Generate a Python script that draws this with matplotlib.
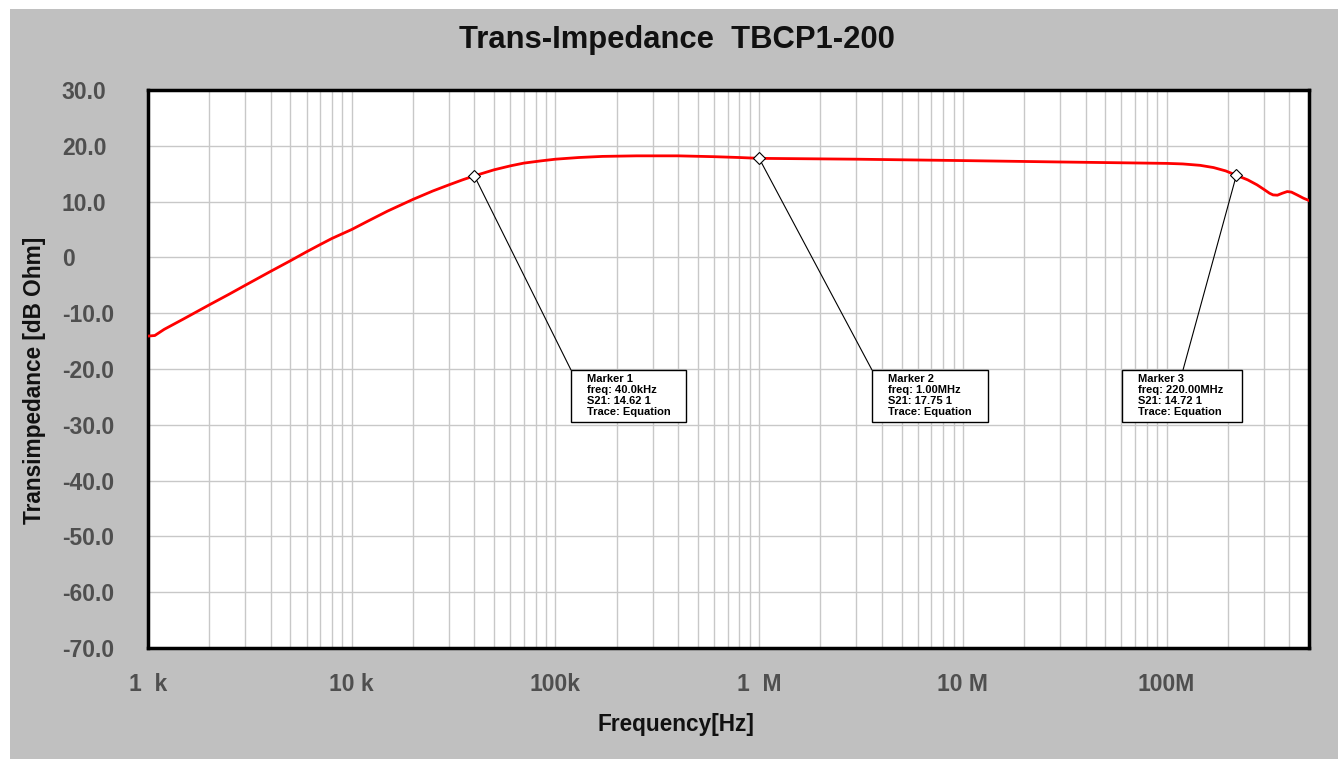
import matplotlib
matplotlib.use("Agg")
import matplotlib.pyplot as plt
from matplotlib.patches import Rectangle, ConnectionPatch
from matplotlib.ticker import FixedLocator, NullFormatter

# ---- data ----
freq_hz = [1e3, 1.08e3, 1.2e3, 1.5e3, 2e3, 2.5e3, 3e3, 4e3, 5e3, 6e3, 7e3, 8e3, 1e4, 1.2e4,
           1.5e4, 2e4, 2.5e4, 3e4, 3.5e4, 4e4, 5e4, 6e4, 7e4, 8.5e4, 1e5, 1.3e5, 1.7e5, 2.5e5,
           4e5, 6e5, 8e5, 1e6, 3e6, 1e7, 3e7, 1e8, 1.2e8, 1.46e8, 1.7e8, 1.95e8, 2.2e8, 2.5e8,
           2.78e8, 3e8, 3.2e8, 3.33e8, 3.5e8, 3.7e8, 3.91e8, 4.1e8, 4.37e8, 4.7e8, 5e8]
trans_db = [-14.1, -14.0, -12.9, -11.0, -8.5, -6.6, -5.0, -2.5, -0.6, 1.0, 2.3, 3.4, 5.0, 6.5,
            8.3, 10.4, 11.9, 13.0, 13.9, 14.62, 15.7, 16.4, 16.9, 17.3, 17.6, 17.9, 18.1, 18.2,
            18.2, 18.05, 17.9, 17.75, 17.6, 17.35, 17.1, 16.85, 16.75, 16.5, 16.1, 15.5, 14.72, 13.9,
            13.0, 12.2, 11.5, 11.2, 11.15, 11.5, 11.8, 11.7, 11.2, 10.6, 10.2]

marker_names = ["Marker 1", "Marker 2", "Marker 3"]
marker_freq = [40e3, 1e6, 220e6]
marker_freq_txt = ["40.0kHz", "1.00MHz", "220.00MHz"]
marker_val = [14.62, 17.75, 14.72]

ytick_vals = [30, 20, 10, 0, -10, -20, -30, -40, -50, -60, -70]
ytick_labels = ["30.0", "20.0", "10.0", "0", "-10.0", "-20.0", "-30.0", "-40.0", "-50.0", "-60.0", "-70.0"]
xtick_vals = [1e3, 1e4, 1e5, 1e6, 1e7, 1e8]
xtick_labels = ["1  k", "10 k", "100k", "1  M", "10 M", "100M"]

# ---- figure ----
W, H = 1338, 759
fig = plt.figure(figsize=(W / 100, H / 100), dpi=100)
fig.patch.set_facecolor("white")
fig.patches.append(Rectangle((10 / W, 0), 1 - 10 / W, 1 - 9 / H, transform=fig.transFigure,
                             facecolor="#c0c0c0", edgecolor="none", zorder=-10))

L, R, T, B = 148, 1309, 90, 648
ax = fig.add_axes([L / W, 1 - B / H, (R - L) / W, (B - T) / H])
ax.set_facecolor("white")
ax.set_xscale("log")
ax.set_xlim(1e3, 5e8)
ax.set_ylim(-70, 30)

fam = ["Liberation Sans", "DejaVu Sans"]
tick_col = "#4f4f4f"

ax.xaxis.set_major_locator(FixedLocator(xtick_vals))
ax.set_xticklabels(xtick_labels)
minors = [m * 10 ** e for e in range(3, 9) for m in range(2, 10) if m * 10 ** e <= 5e8]
ax.xaxis.set_minor_locator(FixedLocator(minors))
ax.xaxis.set_minor_formatter(NullFormatter())
ax.set_yticks(ytick_vals)
ax.set_yticklabels(ytick_labels)

ax.grid(True, which="both", axis="x", color="#c8c8c8", lw=1.0)
ax.grid(True, which="major", axis="y", color="#c8c8c8", lw=1.0)
ax.set_axisbelow(True)

ax.tick_params(axis="both", which="both", length=0)
ax.tick_params(axis="x", pad=18, labelsize=16.5, labelcolor=tick_col)
ax.tick_params(axis="y", pad=62, labelsize=16.5, labelcolor=tick_col)
for lab in ax.get_yticklabels():
    lab.set_horizontalalignment("left")
    lab.set_fontfamily(fam)
    lab.set_fontweight("bold")
for lab in ax.get_xticklabels():
    lab.set_fontfamily(fam)
    lab.set_fontweight("bold")

for sp in ax.spines.values():
    sp.set_linewidth(2.5)
    sp.set_color("black")

ax.plot(freq_hz, trans_db, color="#ff0000", lw=2.0, zorder=3)

# markers and info boxes
box_left_px = [571, 872, 1122]
box_w_px = [115, 116, 120]
box_top_px, box_h_px = 370, 52
line_end_px = [(571, 370), (872, 370), (1183, 370)]

for i in range(3):
    ax.plot([marker_freq[i]], [marker_val[i]], marker="D", ms=6, mfc="white", mec="black",
            mew=0.8, zorder=5)
    x0 = (box_left_px[i] - L) / (R - L)
    y1 = (B - box_top_px) / (B - T)
    hgt = box_h_px / (B - T)
    wid = box_w_px[i] / (R - L)
    ax.add_patch(Rectangle((x0, y1 - hgt), wid, hgt, transform=ax.transAxes,
                           facecolor="white", edgecolor="black", lw=1.0, zorder=6))
    ex, ey = line_end_px[i]
    con = ConnectionPatch(xyA=(marker_freq[i], marker_val[i]), coordsA="data",
                          xyB=((ex - L) / (R - L), (B - ey) / (B - T)), coordsB="axes fraction",
                          color="black", lw=0.8, zorder=4)
    ax.add_artist(con)
    txt = "%s\nfreq: %s\nS21: %.2f 1\nTrace: Equation" % (marker_names[i], marker_freq_txt[i], marker_val[i])
    ax.text(x0 + 16 / (R - L), y1 - 4 / (B - T), txt, transform=ax.transAxes, ha="left", va="top",
            fontsize=8, fontweight="bold", family=fam, linespacing=1.12, zorder=7)

fig.text(677 / W, 1 - 40 / H, "Trans-Impedance  TBCP1-200", ha="center", va="center",
         fontsize=22.3, fontweight="bold", family=fam, color="#111111")
fig.text(676 / W, 1 - 724 / H, "Frequency[Hz]", ha="center", va="center",
         fontsize=16.3, fontweight="bold", family=fam, color="#111111")
fig.text(35 / W, 1 - 380 / H, "Transimpedance [dB Ohm]", ha="center", va="center", rotation=90,
         fontsize=16.3, fontweight="bold", family=fam, color="#111111")

fig.savefig("out.png", dpi=100)
